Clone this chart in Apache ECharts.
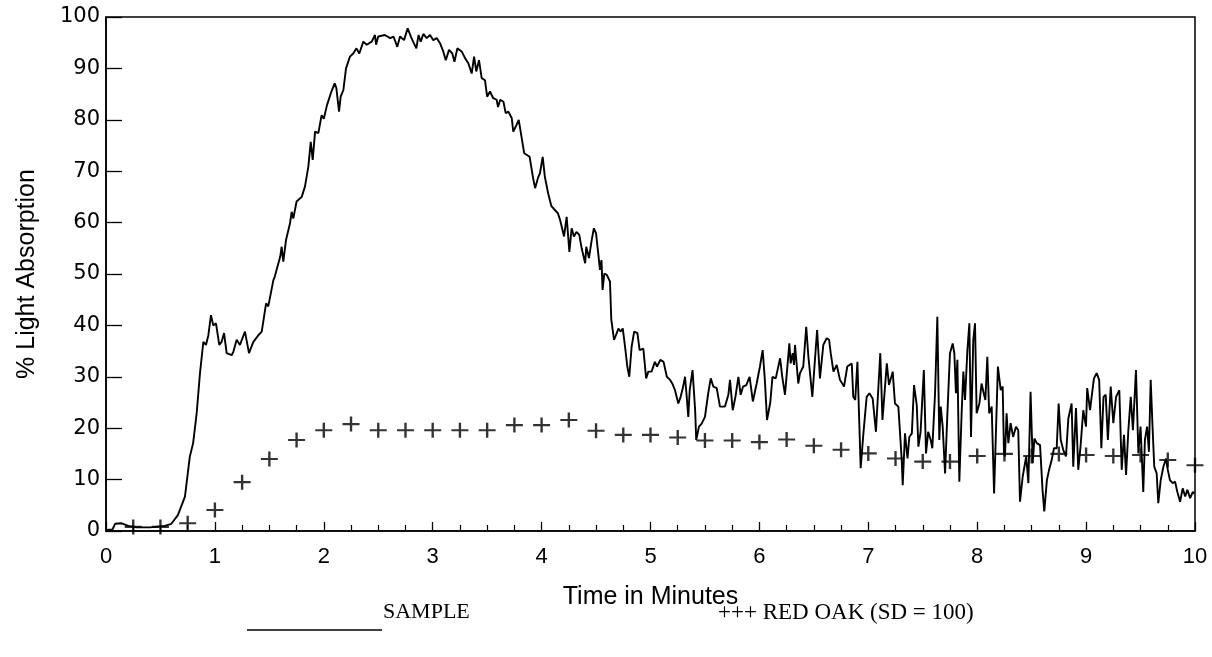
<!DOCTYPE html>
<html>
<head>
<meta charset="utf-8">
<script src="https://cdn.jsdelivr.net/npm/echarts@6/dist/echarts.min.js"></script>
<style>
html,body{margin:0;padding:0;background:#fff;}
#chart{width:1212px;height:657px;}
</style>
</head>
<body>
<div id="chart"></div>
<script>
// ---- data ----
var xTickLabels = ['0','1','2','3','4','5','6','7','8','9','10'];
var yTickLabels = ['0','10','20','30','40','50','60','70','80','90','100'];

var redOakTime = [0.25,0.5,0.75,1.0,1.25,1.5,1.75,2.0,2.25,2.5,2.75,3.0,3.25,3.5,3.75,4.0,4.25,4.5,4.75,5.0,5.25,5.5,5.75,6.0,6.25,6.5,6.75,7.0,7.25,7.5,7.75,8.0,8.25,8.5,8.75,9.0,9.25,9.5,9.75,10.0];
var redOakValue = [0.8,0.8,1.5,4.1,9.5,14,17.7,19.6,20.8,19.6,19.6,19.6,19.6,19.6,20.6,20.6,21.6,19.5,18.7,18.7,18.2,17.6,17.6,17.3,17.8,16.6,15.8,15.1,14.1,13.5,13.5,14.6,15.0,14.6,15.0,14.8,14.6,14.8,13.8,12.8];

var samplePoints = [
[0.00,0.2],[0.06,0.3],[0.083,1.4],[0.144,1.5],[0.205,1.0],[0.28,0.7],[0.40,0.7],[0.54,1.0],[0.60,1.4],[0.66,3.1],[0.725,6.7],[0.77,14.5],[0.80,17.1],[0.833,23],[0.863,30.7],[0.894,36.8],[0.918,36.2],[0.94,38.1],[0.964,42],[0.985,40],[1.01,40.4],[1.04,36.2],[1.062,36.8],[1.084,38.5],[1.108,34.6],[1.154,34.2],[1.17,34.9],[1.20,37.2],[1.23,36.2],[1.276,38.8],[1.313,34.6],[1.353,36.8],[1.40,38.1],[1.43,38.8],[1.47,44.3],[1.49,43.7],[1.537,48.8],[1.55,49.5],[1.60,53.4],[1.613,55.3],[1.628,52.4],[1.653,56.6],[1.69,59.9],[1.705,62.1],[1.72,60.8],[1.75,64.1],[1.797,65.0],[1.827,67.0],[1.858,70.9],[1.88,75.7],[1.898,72.2],[1.92,77.7],[1.95,77.4],[1.98,80.9],[2.0,80.2],
[2.03,82.9],[2.07,85.5],[2.10,87.1],[2.115,86.2],[2.14,81.6],[2.155,84.5],[2.18,85.8],[2.204,90.0],[2.24,92.3],[2.27,92.9],[2.30,93.9],[2.326,92.9],[2.363,95.2],[2.394,94.6],[2.44,95.2],[2.47,96.5],[2.48,94.6],[2.50,96.2],[2.56,96.5],[2.61,95.9],[2.64,96.2],[2.675,94.2],[2.70,96.2],[2.737,95.5],[2.77,97.8],[2.80,96.2],[2.82,95.2],[2.85,93.9],[2.87,96.5],[2.89,95.2],[2.914,96.7],[2.945,95.9],[2.975,96.5],[3.005,95.5],[3.037,95.9],[3.067,94.9],[3.097,93.3],[3.12,91.6],[3.15,93.6],[3.18,92.9],[3.20,91.3],[3.226,93.9],[3.266,93.3],[3.297,92.0],[3.327,91.0],[3.358,89.0],[3.38,92.3],[3.40,89.4],[3.425,91.6],[3.45,88.1],[3.48,87.7],[3.50,84.5],[3.526,85.5],[3.556,84.2],[3.587,83.9],[3.60,82.5],[3.62,83.9],[3.65,83.5],[3.67,81.3],[3.695,81.6],[3.726,80.3],[3.74,77.7],[3.77,79.0],[3.79,80],[3.81,77.4],[3.84,73.5],[3.89,72.8],[3.92,68.9],[3.94,66.7],[3.97,68.9],[3.985,69.6],[4.01,72.8],[4.03,68.9],[4.06,65.7],
[4.09,63.2],[4.12,62.5],[4.15,61.8],[4.17,60.5],[4.206,57.3],[4.23,61.1],[4.255,54.3],[4.276,58.9],[4.297,57.3],[4.32,58.2],[4.346,57.6],[4.368,55.0],[4.40,52.1],[4.41,55.3],[4.435,53.1],[4.46,56.6],[4.48,58.9],[4.50,57.9],[4.52,54.0],[4.536,50.8],[4.55,52.7],[4.56,46.9],[4.576,50.1],[4.60,49.8],[4.628,48.5],[4.64,41.1],[4.665,37.2],[4.69,38.5],[4.705,39.4],[4.726,38.8],[4.745,39.4],[4.766,35.9],[4.787,32.0],[4.805,30.0],[4.827,35.9],[4.85,38.8],[4.88,38.5],[4.90,35.2],[4.934,35.5],[4.96,29.7],[4.98,31.0],[5.01,31.0],[5.04,32.9],[5.06,32.0],[5.09,33.3],[5.12,32.9],[5.15,30.0],[5.18,29.4],[5.20,28.7],[5.225,27.4],[5.255,24.8],[5.277,26.1],[5.30,28.1],[5.317,30.0],[5.33,26.8],[5.347,22.2],[5.36,27.4],[5.386,31.3],[5.41,23.5],[5.42,17.7],[5.445,20.3],[5.47,20.9],[5.50,22.2],[5.53,26.8],[5.553,29.7],[5.577,28.1],[5.608,27.8],[5.638,24.2],[5.684,24.2],[5.715,26.5],[5.73,29.4],[5.755,23.5],[5.78,26.1],[5.807,30.0],[5.828,26.5],[5.85,28.1],[5.88,28.4],[5.91,30.0],[5.94,25.2],[5.975,28.7],[6.005,32.0],[6.03,35.2],[6.05,29.4],[6.07,21.6],
[6.10,25.0],[6.12,30.0],[6.15,29.7],[6.19,33.6],[6.21,30.0],[6.235,26.5],[6.25,26.8],[6.275,36.5],[6.287,32.6],[6.306,34.6],[6.318,32.3],[6.327,36.2],[6.357,28.7],[6.373,30.7],[6.403,32.0],[6.43,39.7],[6.45,33.9],[6.486,26.1],[6.51,33.3],[6.53,39.1],[6.556,29.7],[6.587,36.2],[6.618,37.5],[6.64,37.2],[6.655,34.6],[6.68,31.0],[6.71,32.3],[6.74,29.4],[6.777,28.1],[6.807,32.0],[6.848,32.6],[6.862,26.1],[6.88,25.5],[6.90,32.9],[6.93,12.2],[6.955,19.0],[6.985,26.1],[7.01,26.8],[7.04,25.8],[7.07,19.3],[7.11,34.6],[7.13,21.6],[7.17,32.6],[7.19,28.4],[7.224,31.0],[7.245,24.8],[7.276,24.2],[7.307,13.8],[7.316,8.9],[7.337,19.0],[7.36,14.1],[7.377,18.3],[7.40,19.0],[7.42,28.4],[7.445,24.5],[7.46,16.4],[7.48,19.3],[7.51,31.3],[7.53,15.1],[7.55,19.3],[7.573,17.7],[7.588,16.1],[7.613,26.8],[7.634,41.7],[7.652,17.7],[7.665,24.2],[7.683,20.3],[7.705,11.2],[7.725,22.2],[7.75,34.6],[7.775,36.5],[7.79,34.6],[7.805,26.8],[7.818,33.3],[7.836,9.6],[7.858,23.5],[7.873,31.0],[7.888,25.5],[7.91,35.2],[7.928,40.4],[7.943,18.3],[7.964,37.2],[7.98,40.4],[7.995,22.9],[8.02,24.8],
[8.04,28.7],[8.06,26.8],[8.075,25.5],[8.093,33.9],[8.11,22.9],[8.133,24.2],[8.155,7.3],[8.17,17.7],[8.19,32.0],[8.216,27.4],[8.234,28.1],[8.246,15.1],[8.255,14.5],[8.27,22.9],[8.286,17.1],[8.307,21.0],[8.33,18.3],[8.356,20.3],[8.377,19.6],[8.393,5.7],[8.418,10.6],[8.45,14.5],[8.47,9.3],[8.49,27.1],[8.51,13.2],[8.525,18.0],[8.547,17.1],[8.577,16.7],[8.60,8.0],[8.616,3.8],[8.64,9.9],[8.66,11.9],[8.684,13.8],[8.705,16.1],[8.73,16.1],[8.748,24.8],[8.767,17.7],[8.79,15.8],[8.815,14.5],[8.837,21.9],[8.867,24.8],[8.882,12.5],[8.907,23.9],[8.928,11.9],[8.95,16.7],[8.974,23.5],[8.999,20.3],[9.01,27.8],[9.036,23.5],[9.072,29.7],[9.097,30.7],[9.12,29.4],[9.14,16.1],[9.16,26.1],[9.18,26.5],[9.20,17.7],[9.226,28.1],[9.25,21.0],[9.275,26.1],[9.305,27.4],[9.327,11.9],[9.348,18.7],[9.367,10.9],[9.388,19.6],[9.41,26.1],[9.43,19.6],[9.458,31.3],[9.48,15.1],[9.50,20.3],[9.525,7.6],[9.54,17.7],[9.56,20.3],[9.577,15.4],[9.593,29.4],[9.61,20.3],[9.626,12.5],[9.648,11.2],[9.663,5.4],[9.685,9.9],[9.71,12.5],[9.734,14.1],[9.75,11.9],[9.77,9.9],[9.796,9.3],[9.817,9.6],[9.838,7.6],[9.863,5.7],[9.887,8.3],[9.91,6.7],[9.93,8.0],[9.955,6.4],[9.98,7.6],[9.995,7.3]
];

var xAxisTitle = 'Time in Minutes';
var yAxisTitle = '% Light Absorption';
var legendSample = 'SAMPLE';
var legendRedOak = '+++ RED OAK (SD = 100)';

// ---- chart ----
var chart = echarts.init(document.getElementById('chart'), null, {renderer: 'canvas'});
var redOakData = redOakTime.map(function (t, i) { return [t, redOakValue[i]]; });
var plusPath = 'path://M-1.4,-10L1.4,-10L1.4,-1.4L10,-1.4L10,1.4L1.4,1.4L1.4,10L-1.4,10L-1.4,1.4L-10,1.4L-10,-1.4L-1.4,-1.4Z';

chart.setOption({
  backgroundColor: '#fff',
  animation: false,
  grid: {left: 106, right: 17, top: 17, bottom: 126, show: true, borderColor: '#000', borderWidth: 1.5, backgroundColor: 'transparent'},
  xAxis: {
    type: 'value', min: 0, max: 10, interval: 1,
    name: xAxisTitle, nameLocation: 'middle', nameGap: 54,
    nameTextStyle: {fontFamily: 'Arial, Liberation Sans, sans-serif', fontSize: 25, color: '#000'},
    axisLine: {show: true, lineStyle: {color: '#000', width: 1.6}},
    axisTick: {show: true, inside: true, length: 9, lineStyle: {color: '#000', width: 1.3}},
    minorTick: {show: true, splitNumber: 4, length: 6, lineStyle: {color: '#000', width: 1.2}},
    axisLabel: {fontFamily: 'Arial, Liberation Sans, sans-serif', fontSize: 22, color: '#000', margin: 15,
      formatter: function (v) { return xTickLabels[Math.round(v)]; }},
    splitLine: {show: false}
  },
  yAxis: {
    type: 'value', min: 0, max: 100, interval: 10,
    name: yAxisTitle, nameLocation: 'middle', nameGap: 66, nameRotate: 90,
    nameTextStyle: {fontFamily: 'Arial, Liberation Sans, sans-serif', fontSize: 25, color: '#000'},
    axisLine: {show: true, lineStyle: {color: '#000', width: 1.6}},
    axisTick: {show: true, inside: true, length: 16, lineStyle: {color: '#000', width: 1.3}},
    axisLabel: {fontFamily: 'DejaVu Sans, sans-serif', fontSize: 21, color: '#000', margin: 6,
      formatter: function (v) { return yTickLabels[Math.round(v / 10)]; }},
    splitLine: {show: false}
  },
  series: [
    {
      name: 'SAMPLE', type: 'line', data: samplePoints, showSymbol: false, symbol: 'none',
      lineStyle: {color: '#000', width: 1.9}, z: 3
    },
    {
      name: 'RED OAK (SD = 100)', type: 'scatter', data: redOakData,
      symbol: plusPath, symbolSize: [17, 15],
      itemStyle: {color: '#000'}, z: 4
    }
  ],
  graphic: [
    {type: 'line', shape: {x1: 247, y1: 630, x2: 382, y2: 630}, style: {stroke: '#000', lineWidth: 1.6}},
    {type: 'text', left: 383, top: 601, style: {text: legendSample, font: '22px "Liberation Serif", "Times New Roman", serif', fill: '#000'}},
    {type: 'text', left: 718, top: 601, style: {text: legendRedOak, font: '23px "Liberation Serif", "Times New Roman", serif', fill: '#000'}}
  ]
});
</script>
</body>
</html>
